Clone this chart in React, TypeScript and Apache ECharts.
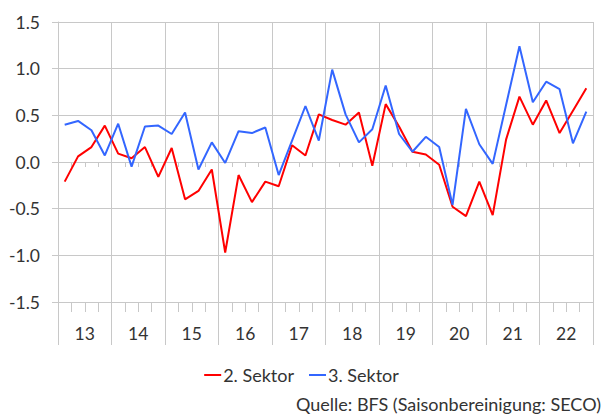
import React, { useEffect, useRef } from "react";
import * as echarts from "echarts";

const years = ["13", "14", "15", "16", "17", "18", "19", "20", "21", "22"];
const quarters: string[] = [];
years.forEach((y) => ["Q1", "Q2", "Q3", "Q4"].forEach((q) => quarters.push(y + " " + q)));

const sektor2 = [
  -0.21, 0.06, 0.16, 0.39, 0.09, 0.04, 0.16, -0.16, 0.15, -0.4,
  -0.31, -0.08, -0.97, -0.14, -0.43, -0.21, -0.26, 0.18, 0.07, 0.51,
  0.45, 0.4, 0.53, -0.04, 0.62, 0.38, 0.11, 0.08, -0.03, -0.48,
  -0.58, -0.21, -0.57, 0.24, 0.7, 0.4, 0.66, 0.31, 0.55, 0.79,
];
const sektor3 = [
  0.4, 0.44, 0.34, 0.07, 0.41, -0.05, 0.38, 0.39, 0.3, 0.53,
  -0.08, 0.21, -0.01, 0.33, 0.31, 0.37, -0.14, 0.23, 0.6, 0.23,
  0.99, 0.51, 0.21, 0.35, 0.82, 0.3, 0.11, 0.27, 0.16, -0.46,
  0.57, 0.19, -0.02, 0.61, 1.24, 0.64, 0.86, 0.78, 0.2, 0.54,
];
const seriesNames = ["2. Sektor", "3. Sektor"];
const sourceText = "Quelle: BFS (Saisonbereinigung: SECO)";

const FONT = "Lato, 'Open Sans', sans-serif";
const GRID = "#c8c8c8";
const TEXT = "#333333";

export default function App() {
  const ref = useRef<HTMLDivElement>(null);
  useEffect(() => {
    document.body.style.margin = "0";
    if (!ref.current) return;
    const chart = echarts.init(ref.current, undefined, { renderer: "svg" });
    chart.setOption({
      animation: false,
      textStyle: { fontFamily: FONT },
      grid: { left: 58, right: 10, top: 22, bottom: 112, containLabel: false },
      legend: {
        data: seriesNames,
        icon: "rect",
        left: "center",
        top: 361,
        itemWidth: 17,
        itemHeight: 2,
        itemGap: 15,
        textStyle: { fontSize: 18, color: TEXT, fontFamily: FONT, padding: [0, 0, 0, -3] },
      },
      graphic: [
        {
          type: "text",
          right: 2,
          top: 395,
          style: { text: sourceText, fontSize: 18, fontFamily: FONT, fill: TEXT },
        },
      ],
      xAxis: [
        {
          type: "category",
          data: quarters,
          boundaryGap: true,
          axisLine: { onZero: true, lineStyle: { color: GRID, width: 1 } },
          axisTick: { show: true, interval: 0, length: 5, lineStyle: { color: GRID } },
          axisLabel: { show: false },
          splitLine: { show: false },
        },
        {
          type: "category",
          data: quarters,
          position: "bottom",
          boundaryGap: true,
          axisLine: { onZero: false, lineStyle: { color: GRID, width: 1 } },
          axisTick: { show: true, interval: 0, length: 10, lineStyle: { color: GRID } },
          axisLabel: { show: false },
          splitLine: { show: false },
        },
        {
          type: "category",
          data: years,
          position: "bottom",
          boundaryGap: true,
          axisLine: { onZero: false, show: false },
          axisTick: { show: true, interval: 0, length: 43, lineStyle: { color: GRID } },
          axisLabel: { show: true, interval: 0, margin: 22, fontSize: 17.5, color: TEXT, fontFamily: FONT },
          splitLine: { show: true, interval: 0, lineStyle: { color: GRID, width: 1 } },
        },
      ],
      yAxis: {
        type: "value",
        min: -1.5,
        max: 1.5,
        interval: 0.5,
        axisLine: { show: true, lineStyle: { color: GRID } },
        axisTick: { show: true, length: 6, lineStyle: { color: GRID } },
        axisLabel: {
          fontSize: 17.5,
          color: TEXT,
          fontFamily: FONT,
          margin: 18,
          formatter: (v: number) => v.toFixed(1),
        },
        splitLine: { show: true, lineStyle: { color: GRID, width: 1 } },
      },
      series: [
        {
          name: seriesNames[0],
          type: "line",
          xAxisIndex: 0,
          data: sektor2,
          symbol: "none",
          lineStyle: { color: "#ff0000", width: 2 },
          itemStyle: { color: "#ff0000" },
        },
        {
          name: seriesNames[1],
          type: "line",
          xAxisIndex: 0,
          data: sektor3,
          symbol: "none",
          lineStyle: { color: "#3366ff", width: 2 },
          itemStyle: { color: "#3366ff" },
        },
      ],
    });
    return () => chart.dispose();
  }, []);
  return <div ref={ref} style={{ width: 603, height: 414 }} />;
}
